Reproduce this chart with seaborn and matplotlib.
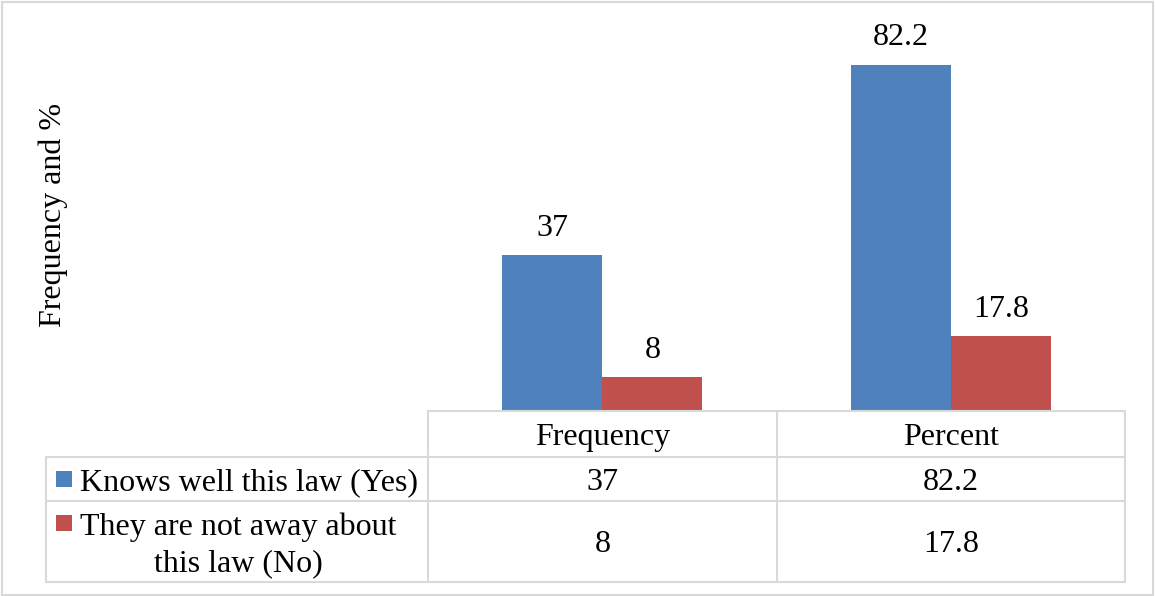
#!/usr/bin/env python3
"""
Awareness of the law: frequency and percent, column chart with an Excel-style data table.
"""

import pandas as pd
import matplotlib
matplotlib.use("Agg")
import matplotlib.pyplot as plt
from matplotlib.patches import Rectangle
import seaborn as sns

# ---- data -------------------------------------------------------------
measures = ["Frequency", "Percent"]
responses = ["Knows well this law (Yes)", "They are not away about\nthis law (No)"]
yes_values = [37, 82.2]
no_values = [8, 17.8]
y_label = "Frequency and %"

colors = ["#4F81BD", "#C0504D"]
grid_color = "#D9D9D9"
W, H = 1155, 596
FS = 23
DY = 3.5  # text nudge so glyphs sit centred like Excel does

df = pd.DataFrame({
    "measure": measures * 2,
    "response": [responses[0]] * len(measures) + [responses[1]] * len(measures),
    "value": yes_values + no_values,
})

sns.set_style("white")
plt.rcParams["font.family"] = ["Liberation Serif", "DejaVu Serif"]
plt.rcParams["text.color"] = "black"


def px_axes(fig, x0, y0, x1, y1):
    """Axes placed by pixel box (top-left origin)."""
    return fig.add_axes([x0 / W, 1 - y1 / H, (x1 - x0) / W, (y1 - y0) / H])


fig = plt.figure(figsize=(W / 100, H / 100), dpi=100)

# bar area: baseline sits on top of the data table
ax = px_axes(fig, 428, 32, 1125, 411)
sns.barplot(data=df, x="measure", y="value", hue="response", order=measures,
            hue_order=responses, palette=colors, width=0.574, gap=0,
            saturation=1, legend=False, linewidth=0, ax=ax)
ax.set_ylim(0, 90)
ax.set_xlim(-0.5, len(measures) - 0.5)
ax.axis("off")

for cont, vals in zip(ax.containers, [yes_values, no_values]):
    ax.bar_label(cont, labels=[f"{v:g}" for v in vals], padding=9,
                 fontsize=FS, color="black")

# overlay in pixel coordinates for the table and frame
ov = fig.add_axes([0, 0, 1, 1], facecolor="none")
ov.set_xlim(0, W)
ov.set_ylim(H, 0)
ov.axis("off")

ov.add_patch(Rectangle((2, 2), 1151, 593, fill=False, ec=grid_color, lw=1.5))

col_x = [428, 777, 1125]
row_y = [411, 456.5, 501, 582]
left_x = 46
lw = 1.5
ov.plot([col_x[0], col_x[-1]], [row_y[0]] * 2, color=grid_color, lw=lw)
for y in row_y[1:]:
    ov.plot([left_x, col_x[-1]], [y, y], color=grid_color, lw=lw)
ov.plot([left_x, left_x], [row_y[1], row_y[-1]], color=grid_color, lw=lw)
for x in col_x:
    ov.plot([x, x], [row_y[0], row_y[-1]], color=grid_color, lw=lw)

# header and values
centers = [(col_x[i] + col_x[i + 1]) / 2 for i in range(len(measures))]
header_y = (row_y[0] + row_y[1]) / 2 + DY
row_mid = [(row_y[1] + row_y[2]) / 2 + DY, (row_y[2] + row_y[3]) / 2 + DY]
for cx, name in zip(centers, measures):
    ov.text(cx, header_y, name, ha="center", va="center", fontsize=FS)
for ry, vals in zip(row_mid, [yes_values, no_values]):
    for cx, v in zip(centers, vals):
        ov.text(cx, ry, f"{v:g}", ha="center", va="center", fontsize=FS)

# legend keys + row labels
key_y = [479, 523]
for ry, ky, label, c in zip(row_mid, key_y, responses, colors):
    ov.add_patch(Rectangle((56, ky - 8), 16, 16, color=c, lw=0))
    ov.text(80, ry, label, ha="left", va="center", multialignment="center",
            fontsize=FS, linespacing=1.32)

ov.text(53, 215, y_label, rotation=90, ha="center", va="center", fontsize=FS)

fig.savefig("out.png", dpi=100)
plt.close(fig)
